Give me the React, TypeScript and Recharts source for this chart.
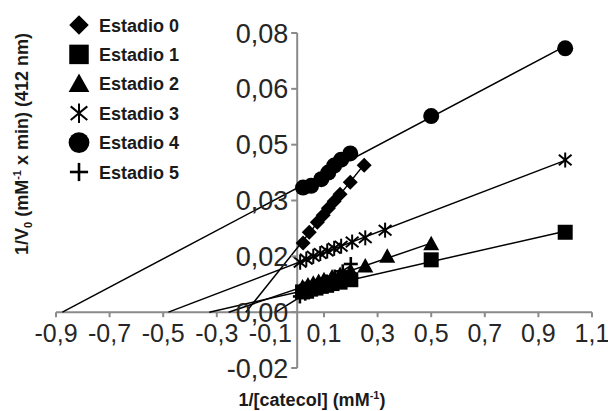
import React from "react";
import { ScatterChart, Scatter, XAxis, YAxis, ReferenceLine, Legend } from "recharts";

// ---------- data ----------
const xTicks = [-0.9, -0.7, -0.5, -0.3, -0.1, 0.1, 0.3, 0.5, 0.7, 0.9, 1.1];
const yTicks = [-0.016, 0, 0.016, 0.032, 0.048, 0.064, 0.08];
const xDomain: [number, number] = [-0.9, 1.1];
const yDomain: [number, number] = [-0.016, 0.08];

const seriesNames = ["Estadio 0", "Estadio 1", "Estadio 2", "Estadio 3", "Estadio 4", "Estadio 5"];

const estadio0X = [0.022, 0.045, 0.075, 0.097, 0.116, 0.138, 0.16, 0.198, 0.25];
const estadio0Y = [0.0198, 0.0229, 0.0258, 0.0278, 0.0298, 0.0318, 0.0338, 0.0372, 0.0421];

const estadio1X = [0.02, 0.035, 0.05, 0.07, 0.09, 0.11, 0.13, 0.16, 0.2, 0.5, 1.0];
const estadio1Y = [0.0058, 0.006, 0.0066, 0.0069, 0.0074, 0.0077, 0.0082, 0.0086, 0.0093, 0.015, 0.0229];

const estadio2X = [0.02, 0.04, 0.06, 0.08, 0.1, 0.13, 0.16, 0.2, 0.254, 0.336, 0.5];
const estadio2Y = [0.0072, 0.0078, 0.0083, 0.0088, 0.0093, 0.0101, 0.0108, 0.0117, 0.0132, 0.016, 0.0196];

const estadio3X = [0.011, 0.034, 0.06, 0.086, 0.112, 0.138, 0.164, 0.205, 0.254, 0.328, 1.0];
const estadio3Y = [0.0143, 0.0152, 0.016, 0.0168, 0.0175, 0.0183, 0.0189, 0.0201, 0.0213, 0.0235, 0.0436];

const estadio4X = [0.022, 0.052, 0.09, 0.116, 0.138, 0.164, 0.198, 0.5, 1.0];
const estadio4Y = [0.0357, 0.0362, 0.0381, 0.04, 0.042, 0.0437, 0.0455, 0.0562, 0.0756];

const estadio5X = [0.01, 0.03, 0.05, 0.07, 0.09, 0.11, 0.14, 0.17, 0.2];
const estadio5Y = [0.0045, 0.0053, 0.0062, 0.0071, 0.0079, 0.0088, 0.0102, 0.0117, 0.0138];

// ---------- layout / style ----------
const W = 600;
const H = 403;
const M = { top: 25, right: 16, bottom: 42, left: 47 };
const AXIS_SIZE = 1;
const PL = M.left + AXIS_SIZE;
const PW = W - PL - M.right;
const PH = H - M.top - M.bottom - AXIS_SIZE;
const ZX = PL + (PW * (0 - xDomain[0])) / (xDomain[1] - xDomain[0]);
const ZY = M.top + (PH * (yDomain[1] - 0)) / (yDomain[1] - yDomain[0]);
const FONT = "'Liberation Sans', Arial, Helvetica, sans-serif";
const AXIS = "#8a8a8a";
const TXT = "#262626";

type Kind = "diamond" | "square" | "triangle" | "asterisk" | "circle" | "plus";
const kinds: Kind[] = ["diamond", "square", "triangle", "asterisk", "circle", "plus"];

function Marker({ kind, cx, cy, s = 1 }: { kind: Kind; cx: number; cy: number; s?: number }) {
  if (cx == null || cy == null) return <g />;
  switch (kind) {
    case "diamond": {
      const r = 7.5 * s;
      return <polygon points={`${cx},${cy - r} ${cx + r},${cy} ${cx},${cy + r} ${cx - r},${cy}`} fill="#000" />;
    }
    case "square": {
      const h = 7.5 * s;
      return <rect x={cx - h} y={cy - h} width={2 * h} height={2 * h} fill="#000" />;
    }
    case "triangle": {
      const a = 8 * s;
      return <polygon points={`${cx},${cy - a} ${cx + a},${cy + 0.8 * a} ${cx - a},${cy + 0.8 * a}`} fill="#000" />;
    }
    case "asterisk": {
      const r = 7.5 * s;
      return (
        <g stroke="#000" strokeWidth={2}>
          <line x1={cx} y1={cy - r} x2={cx} y2={cy + r} />
          <line x1={cx - 0.85 * r} y1={cy - 0.7 * r} x2={cx + 0.85 * r} y2={cy + 0.7 * r} />
          <line x1={cx - 0.85 * r} y1={cy + 0.7 * r} x2={cx + 0.85 * r} y2={cy - 0.7 * r} />
        </g>
      );
    }
    case "circle":
      return <circle cx={cx} cy={cy} r={8 * s} fill="#000" />;
    case "plus": {
      const r = 7 * s;
      return (
        <g stroke="#000" strokeWidth={2.6}>
          <line x1={cx} y1={cy - r} x2={cx} y2={cy + r} />
          <line x1={cx - r} y1={cy} x2={cx + r} y2={cy} />
        </g>
      );
    }
  }
  return <g />;
}

const toPoints = (xs: number[], ys: number[]) => xs.map((x, i) => ({ x, y: ys[i] }));

// least-squares trendline, extended back to its x-intercept
function trend(xs: number[], ys: number[]) {
  const n = xs.length;
  const mx = xs.reduce((a, b) => a + b, 0) / n;
  const my = ys.reduce((a, b) => a + b, 0) / n;
  let sxy = 0;
  let sxx = 0;
  for (let i = 0; i < n; i++) {
    sxy += (xs[i] - mx) * (ys[i] - my);
    sxx += (xs[i] - mx) * (xs[i] - mx);
  }
  const m = sxy / sxx;
  const b = my - m * mx;
  const x0 = Math.max(-b / m, xDomain[0]);
  const x1 = Math.max(...xs);
  return [
    { x: x0, y: m * x0 + b },
    { x: x1, y: m * x1 + b },
  ];
}

const seriesX = [estadio0X, estadio1X, estadio2X, estadio3X, estadio4X, estadio5X];
const seriesY = [estadio0Y, estadio1Y, estadio2Y, estadio3Y, estadio4Y, estadio5Y];

const fmtX = (v: number) => v.toFixed(1).replace(".", ",");
const fmtY = (v: number) => v.toFixed(2).replace(".", ",");

function XTick(props: any) {
  const { x, payload } = props;
  return (
    <g>
      <line x1={x} x2={x} y1={ZY} y2={ZY + 5} stroke={AXIS} strokeWidth={2} />
      <text x={x} y={ZY + 30} textAnchor="middle" fontSize={25} fontFamily={FONT} fill={TXT}>
        {fmtX(payload.value)}
      </text>
    </g>
  );
}

function YTick(props: any) {
  const { y, payload } = props;
  return (
    <g>
      <line x1={ZX - 6} x2={ZX} y1={y} y2={y} stroke={AXIS} strokeWidth={2} />
      <text x={ZX - 9} y={y + 9.5} textAnchor="end" fontSize={27} fontFamily={FONT} fill={TXT}>
        {fmtY(payload.value)}
      </text>
    </g>
  );
}

function LegendBox() {
  return (
    <svg width={200} height={190} style={{ display: "block" }}>
      {seriesNames.map((name, i) => {
        const cy = 17 + i * 29.4;
        return (
          <g key={name}>
            <Marker kind={kinds[i]} cx={71} cy={cy} s={1.3} />
            <text x={91} y={cy + 6.5} fontSize={18} fontWeight="bold" fontFamily={FONT} fill="#1a1a1a">
              {name}
            </text>
          </g>
        );
      })}
    </svg>
  );
}

export default function App() {
  return (
    <div style={{ padding: "8px 0 0 8px", width: W + 8, height: H, overflow: "hidden" }}>
      <style>{`body { margin: 0; } .recharts-surface { overflow: visible; }`}</style>
      <div style={{ position: "relative", width: W, height: H, fontFamily: FONT }}>
        <ScatterChart width={W} height={H} margin={M}>
          <XAxis
            type="number"
            dataKey="x"
            domain={xDomain}
            ticks={xTicks}
            interval={0}
            allowDataOverflow
            axisLine={false}
            tickLine={false}
            height={AXIS_SIZE}
            tick={(p: any) => <XTick {...p} />}
          />
          <YAxis
            type="number"
            dataKey="y"
            domain={yDomain}
            ticks={yTicks}
            interval={0}
            allowDataOverflow
            axisLine={false}
            tickLine={false}
            width={AXIS_SIZE}
            tick={(p: any) => <YTick {...p} />}
          />
          <ReferenceLine x={0} stroke={AXIS} strokeWidth={2} />
          <ReferenceLine y={0} stroke={AXIS} strokeWidth={2} />
          <Legend
            layout="vertical"
            align="center"
            verticalAlign="middle"
            wrapperStyle={{ left: 0, top: 0, width: 200, height: 190 }}
            content={() => <LegendBox />}
          />
          {seriesNames.map((name, i) => (
            <Scatter
              key={"t" + name}
              data={trend(seriesX[i], seriesY[i])}
              line={{ stroke: "#000", strokeWidth: 1.5 }}
              shape={() => <g />}
              legendType="none"
              isAnimationActive={false}
            />
          ))}
          {seriesNames.map((name, i) => (
            <Scatter
              key={name}
              name={name}
              data={toPoints(seriesX[i], seriesY[i])}
              shape={(p: any) => <Marker kind={kinds[i]} cx={p.cx} cy={p.cy} />}
              isAnimationActive={false}
            />
          ))}
        </ScatterChart>
        <svg
          width={W}
          height={H}
          style={{ position: "absolute", left: 0, top: 0, pointerEvents: "none", overflow: "visible" }}
        >
          <text x={304} y={398} textAnchor="middle" fontSize={18} fontWeight="bold" fontFamily={FONT} fill="#1a1a1a">
            1/[catecol] (mM
            <tspan fontSize={11} dy={-7}>-1</tspan>
            <tspan dy={7}>)</tspan>
          </text>
          <text
            transform="translate(20,136) rotate(-90)"
            textAnchor="middle"
            fontSize={18}
            fontWeight="bold"
            fontFamily={FONT}
            fill="#1a1a1a"
          >
            1/V
            <tspan fontSize={11} dy={4}>0</tspan>
            <tspan dy={-4}> (mM</tspan>
            <tspan fontSize={11} dy={-7}>-1</tspan>
            <tspan dy={7}> x min) (412 nm)</tspan>
          </text>
        </svg>
      </div>
    </div>
  );
}
